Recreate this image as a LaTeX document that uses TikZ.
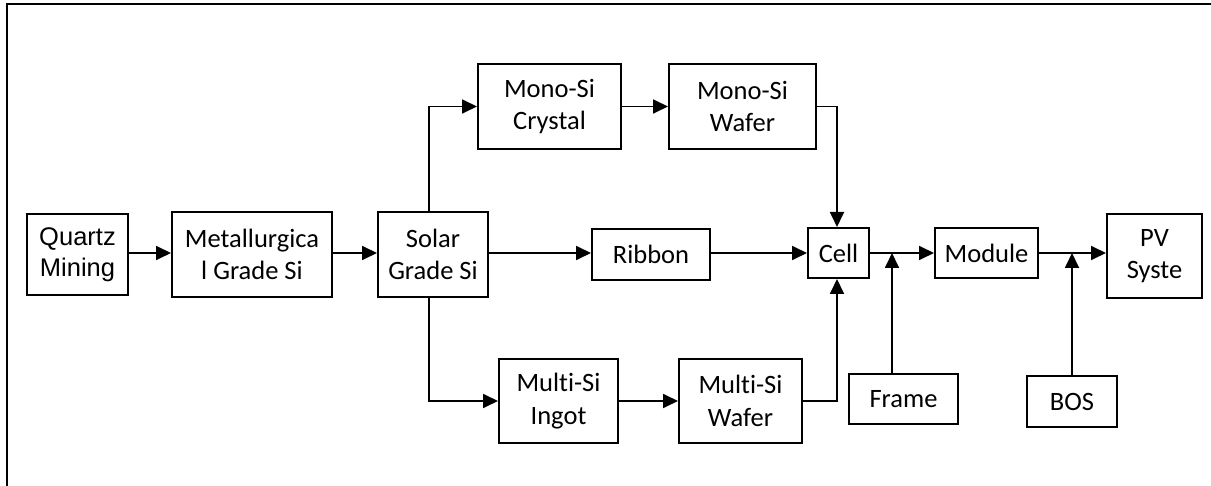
\documentclass[tikz,border=0pt]{standalone}
\usepackage{fontspec}
\setmainfont{Carlito}[RawFeature=-liga]
\newfontfamily\arialf{Liberation Sans}
\usetikzlibrary{arrows.meta}
\begin{document}
\begin{tikzpicture}[x=1pt,y=-1pt,
  box/.style={draw, line width=2pt, inner sep=0pt, align=center,
    font=\fontsize{26.5}{32.5}\selectfont},
  arr/.style={line width=1.8pt, -{Triangle[length=15pt,width=14pt]}}]
\useasboundingbox (0,0) rectangle (1211,486);
% frame
\draw[line width=2.4pt] (7,486) -- (7,4) -- (1211,4);
% nodes
\node[box, minimum width=101pt, minimum height=81pt, font=\arialf\fontsize{25.5}{31}\selectfont] (quartz) at (77.5,254.5) {Quartz\\Mining};
\node[box, minimum width=160pt, minimum height=85pt] (metal) at (252,254.5) {Metallurgica\\l Grade Si};
\node[box, minimum width=110pt, minimum height=85pt] (solar) at (433,254.5) {Solar\\Grade Si};
\node[box, minimum width=143pt, minimum height=85pt] (monoc) at (549.5,106.5) {Mono-Si\\Crystal};
\node[box, minimum width=147pt, minimum height=85pt] (monow) at (742.5,106.5) {Mono-Si\\Wafer};
\node[box, minimum width=118pt, minimum height=51pt] (ribbon) at (651,254.5) {Ribbon};
\node[box, minimum width=61pt, minimum height=50pt] (cell) at (838.5,253) {Cell};
\node[box, minimum width=119pt, minimum height=84pt] (ingot) at (558.5,401) {Multi-Si\\Ingot};
\node[box, minimum width=123pt, minimum height=84pt] (multiw) at (740.5,401) {Multi-Si\\Wafer};
\node[box, minimum width=109pt, minimum height=50pt] (frame) at (903.5,399) {Frame};
\node[box, minimum width=103pt, minimum height=50pt] (module) at (986.5,253) {Module};
\node[box, minimum width=90pt, minimum height=51pt] (bos) at (1072,401.5) {BOS};
\node[box, minimum width=95pt, minimum height=84pt] (pv) at (1154.5,256) {PV\\Syste};
% junction coordinates
\coordinate (fj) at (892,253);
\coordinate (bj) at (1072,253);
% connectors
\draw[arr] (quartz.east |- 0,253) -- (metal.west |- 0,253);
\draw[arr] (metal.east |- 0,253) -- (solar.west |- 0,253);
\draw[arr] (solar.east |- 0,253) -- (ribbon.west |- 0,253);
\draw[arr] (ribbon.east |- 0,253) -- (cell.west);
\draw[arr] (cell.east) -- (module.west);
\draw[arr] (module.east) -- (pv.west |- 0,253);
\draw[arr] ([xshift=-4pt]solar.north) |- (monoc.west);
\draw[arr] (monoc.east) -- (monow.west);
\draw[arr] (monow.east) -| ([xshift=-1.5pt]cell.north);
\draw[arr] ([xshift=-4pt]solar.south) |- (ingot.west);
\draw[arr] (ingot.east) -- (multiw.west);
\draw[arr] (multiw.east) -| ([xshift=-1.5pt]cell.south);
\draw[arr] (frame.north -| fj) -- (fj);
\draw[arr] (bos.north) -- (bj);
\end{tikzpicture}
\end{document}
